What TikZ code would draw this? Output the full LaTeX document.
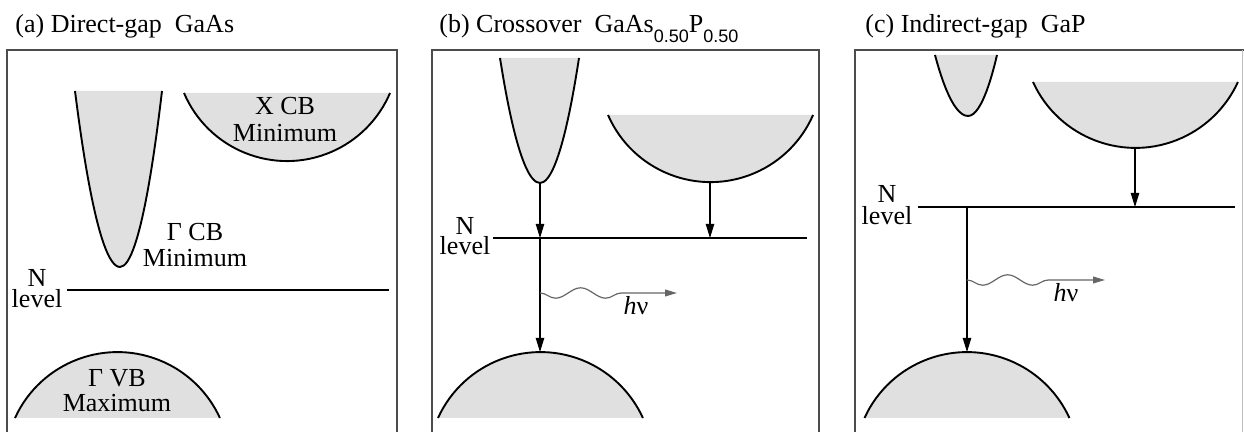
\documentclass[tikz,border=0pt]{standalone}
\usepackage{fontspec}
\setmainfont{Liberation Serif}
\setsansfont{Liberation Sans}
\usetikzlibrary{arrows.meta,decorations.pathmorphing}
\newcommand\subsn[1]{\raisebox{-5pt}{\sffamily\fontsize{9}{9}\selectfont #1}}
\begin{document}
\begin{tikzpicture}[x=0.5pt,y=-0.5pt,
  frame/.style={draw=black!70, line width=0.6pt},
  bandfill/.style={fill=black!12},
  bandline/.style={draw=black, line width=0.95pt},
  nlevel/.style={draw=black, line width=0.8pt},
  trans/.style={draw=black, line width=0.55pt, -{Triangle[length=7pt,width=4.2pt]}},
  photon/.style={draw=black!60, line width=0.6pt, decorate,
    decoration={snake, segment length=25pt, amplitude=2.6pt, mirror, post length=18.5pt},
    -{Triangle[length=6pt,width=3.4pt]}},
  lbl/.style={font=\fontsize{13}{13}\selectfont, inner sep=0pt, anchor=base},
  nlbl/.style={font=\fontsize{13}{#1}\selectfont, inner sep=0pt, anchor=south, align=center},
  ttl/.style={font=\fontsize{13}{13}\selectfont, inner sep=0pt, anchor=base west},
]
\useasboundingbox (0,0) rectangle (1244,432);

% ---------------- frames ----------------
\draw[frame] (7,433) -- (7,50) -- (397,50) -- (397,433);
\draw[frame] (432,433) -- (432,50) -- (819,50) -- (819,433);
\draw[frame] (855,433) -- (855,50) -- (1244,50);
\draw[draw=black!25, line width=0.5pt] (1242,50) -- (1242,433);

% ---------------- titles ----------------
\node[ttl] (a-title) at (15,33) {(a) Direct-gap\ \ GaAs};
\node[ttl] (b-title) at (439,33) {(b) Crossover\ \ GaAs\subsn{0.50}P\subsn{0.50}};
\node[ttl] (c-title) at (865,33) {(c) Indirect-gap\ \ GaP};

% ================= panel (a) =================
% Gamma CB
\fill[bandfill] (75,91) parabola bend (120,267) (162,91) -- cycle;
\draw[bandline] (75,91) parabola bend (120,267) (162,91);
% X CB
\fill[bandfill] (184,93) arc[start angle=156.9, end angle=23.1, radius=112] -- cycle;
\draw[bandline] (184,93) arc[start angle=156.9, end angle=23.1, radius=112];
% Gamma VB
\fill[bandfill] (15,418) arc[start angle=204.5, end angle=335.5, radius=112.6] -- cycle;
\draw[bandline] (15,418) arc[start angle=204.5, end angle=335.5, radius=112.6];
% N level
\coordinate (a-N0) at (67,290);
\coordinate (a-N1) at (389,290);
\draw[nlevel] (a-N0) -- (a-N1);
% labels
\node[lbl] (a-x1) at (285,115) {X CB};
\node[lbl] (a-x2) at (285,142) {Minimum};
\node[lbl] (a-g1) at (195,241) {Γ CB};
\node[lbl] (a-g2) at (195,267) {Minimum};
\node[nlbl=10.5] (a-n) at (37,308) {N\\level};
\node[lbl] (a-v1) at (117,387) {Γ VB};
\node[lbl] (a-v2) at (117,412) {Maximum};

% ================= panel (b) =================
\fill[bandfill] (500,58) parabola bend (540,183) (579,58) -- cycle;
\draw[bandline] (500,58) parabola bend (540,183) (579,58);
\fill[bandfill] (608,115) arc[start angle=156.4, end angle=23.6, radius=111.9] -- cycle;
\draw[bandline] (608,115) arc[start angle=156.4, end angle=23.6, radius=111.9];
\fill[bandfill] (438,418) arc[start angle=204.5, end angle=335.5, radius=112.6] -- cycle;
\draw[bandline] (438,418) arc[start angle=204.5, end angle=335.5, radius=112.6];
\coordinate (b-G) at (540,183);
\coordinate (b-X) at (710,182);
\coordinate (b-N0) at (493,238);
\coordinate (b-N1) at (807,238);
\coordinate (b-NG) at (540,238);
\coordinate (b-NX) at (710,238);
\coordinate (b-V) at (540,352);
\coordinate (b-w0) at (540,293);
\coordinate (b-w1) at (677,293);
\draw[nlevel] (b-N0) -- (b-N1);
\draw[trans] (b-G) -- (b-NG);
\draw[trans] (b-X) -- (b-NX);
\draw[trans] (b-NG) -- (b-V);
\draw[photon] (b-w0) -- (b-w1);
\node[nlbl=10] (b-n) at (465,255) {N\\level};
\node[lbl] (b-hv) at (636,315) {\textit{h}ν};

% ================= panel (c) =================
\fill[bandfill] (935,55) parabola bend (968,116) (997,55) -- cycle;
\draw[bandline] (935,55) parabola bend (968,116) (997,55);
\fill[bandfill] (1033,82) arc[start angle=155.5, end angle=24.5, radius=112.6] -- cycle;
\draw[bandline] (1033,82) arc[start angle=155.5, end angle=24.5, radius=112.6];
\fill[bandfill] (864.5,418) arc[start angle=204.5, end angle=335.5, radius=112.6] -- cycle;
\draw[bandline] (864.5,418) arc[start angle=204.5, end angle=335.5, radius=112.6];
\coordinate (c-X) at (1135,148);
\coordinate (c-N0) at (918,207);
\coordinate (c-N1) at (1235,207);
\coordinate (c-NX) at (1135,207);
\coordinate (c-NG) at (967,207);
\coordinate (c-V) at (967,352);
\coordinate (c-w0) at (967,280);
\coordinate (c-w1) at (1105,280);
\draw[nlevel] (c-N0) -- (c-N1);
\draw[trans] (c-X) -- (c-NX);
\draw[trans] (c-NG) -- (c-V);
\draw[photon] (c-w0) -- (c-w1);
\node[nlbl=11] (c-n) at (887,225) {N\\level};
\node[lbl] (c-hv) at (1066,302) {\textit{h}ν};
\end{tikzpicture}
\end{document}
